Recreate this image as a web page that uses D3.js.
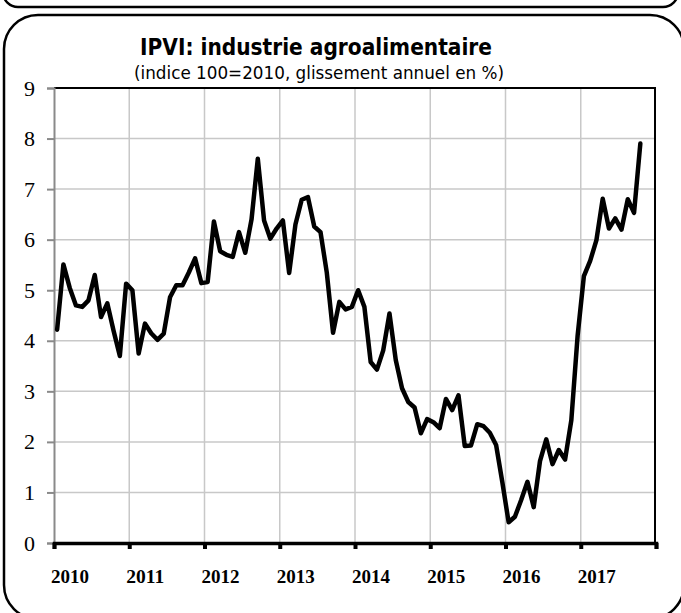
<!DOCTYPE html>
<html>
<head>
<meta charset="utf-8">
<script src="https://cdn.jsdelivr.net/npm/d3@7"></script>
<style>
  html, body { margin: 0; padding: 0; background: #fff; }
  svg { display: block; }
</style>
</head>
<body>
<svg id="chart" width="681" height="613"></svg>
<script>
// Monthly year-on-year change of the agri-food industry index, Jan 2010 onward
const startYear = 2010;
const values = [
  4.22, 5.51, 5.05, 4.70, 4.67, 4.80, 5.30, 4.47, 4.74, 4.20, 3.70, 5.13,
  5.00, 3.75, 4.34, 4.15, 4.02, 4.14, 4.86, 5.10, 5.10, 5.35, 5.63, 5.14,
  5.16, 6.36, 5.77, 5.70, 5.66, 6.15, 5.74, 6.40, 7.60, 6.38, 6.02, 6.22,
  6.38, 5.34, 6.30, 6.79, 6.84, 6.26, 6.15, 5.35, 4.16, 4.77, 4.62, 4.67,
  5.00, 4.67, 3.58, 3.43, 3.81, 4.54, 3.62, 3.06, 2.79, 2.68, 2.17, 2.45,
  2.39, 2.27, 2.85, 2.63, 2.92, 1.92, 1.93, 2.35, 2.31, 2.18, 1.94, 1.20,
  0.41, 0.52, 0.85, 1.21, 0.71, 1.62, 2.05, 1.56, 1.84, 1.65, 2.43, 4.10,
  5.28, 5.58, 5.99, 6.81, 6.22, 6.42, 6.20, 6.80, 6.53, 7.90
];
const yearLabels = ["2010", "2011", "2012", "2013", "2014", "2015", "2016", "2017"];
const yTicks = [0, 1, 2, 3, 4, 5, 6, 7, 8, 9];
const titleText = "IPVI:  industrie agroalimentaire";
const subtitleText = "(indice 100=2010, glissement annuel en %)";

const svg = d3.select("#chart");

// Panel frames
svg.append("rect")
  .attr("x", 3).attr("y", -40).attr("width", 675).attr("height", 47)
  .attr("rx", 15).attr("ry", 15)
  .attr("fill", "none").attr("stroke", "#000").attr("stroke-width", 2.5);
svg.append("rect")
  .attr("x", 4).attr("y", 15).attr("width", 680).attr("height", 604)
  .attr("rx", 34).attr("ry", 34)
  .attr("fill", "none").attr("stroke", "#000").attr("stroke-width", 2.5);

const plot = { left: 54, right: 656, top: 88, bottom: 543 };

const x = d3.scaleLinear()
  .domain([startYear, startYear + 8])
  .range([plot.left, plot.right]);
const y = d3.scaleLinear()
  .domain([0, 9])
  .range([plot.bottom, plot.top]);

const yearTicks = d3.range(startYear, startYear + 9);

// Gridlines
svg.append("g")
  .selectAll("line.h")
  .data(yTicks.slice(1))
  .join("line")
  .attr("x1", plot.left).attr("x2", plot.right)
  .attr("y1", d => y(d)).attr("y2", d => y(d))
  .attr("stroke", "#c8c8c8").attr("stroke-width", 1.5);
svg.append("g")
  .selectAll("line.v")
  .data(yearTicks.slice(1, -1))
  .join("line")
  .attr("x1", d => x(d)).attr("x2", d => x(d))
  .attr("y1", plot.top).attr("y2", plot.bottom)
  .attr("stroke", "#c8c8c8").attr("stroke-width", 1.5);

// Plot border (top and right)
svg.append("path")
  .attr("d", `M${plot.left},${plot.top}H${plot.right - 1}V${plot.bottom}`)
  .attr("fill", "none").attr("stroke", "#000").attr("stroke-width", 2);

// Left axis
const yAxis = svg.append("g")
  .attr("transform", `translate(${plot.left},0)`)
  .call(d3.axisLeft(y).tickValues(yTicks).tickSize(7).tickPadding(12).tickFormat(d3.format("d")));
yAxis.select(".domain").attr("stroke", "#8a8a8a").attr("stroke-width", 2);
yAxis.selectAll(".tick line").attr("stroke", "#8a8a8a").attr("stroke-width", 2);
yAxis.selectAll(".tick text")
  .attr("font-family", "'Liberation Serif', 'Times New Roman', serif")
  .attr("font-size", 22).attr("fill", "#000");

// Bottom axis
const xAxis = svg.append("g")
  .attr("transform", `translate(0,${plot.bottom})`)
  .call(d3.axisBottom(x).tickValues(yearTicks).tickSize(6).tickFormat(""));
xAxis.select(".domain").attr("stroke", "#000").attr("stroke-width", 3.5);
xAxis.selectAll(".tick line").attr("stroke", "#000").attr("stroke-width", 4);

svg.append("g")
  .selectAll("text")
  .data(yearLabels)
  .join("text")
  .attr("x", (d, i) => x(startYear + i) - 3)
  .attr("y", 583)
  .attr("font-family", "'Liberation Serif', 'Times New Roman', serif")
  .attr("font-weight", "bold")
  .attr("font-size", 19)
  .attr("textLength", 38)
  .attr("lengthAdjust", "spacingAndGlyphs")
  .attr("fill", "#000")
  .text(d => d);

// Series line, points at mid-month
const line = d3.line()
  .x((d, i) => x(startYear + (i + 0.5) / 12))
  .y(d => y(d));
svg.append("path")
  .datum(values)
  .attr("d", line)
  .attr("fill", "none")
  .attr("stroke", "#000")
  .attr("stroke-width", 4.5)
  .attr("stroke-linejoin", "round")
  .attr("stroke-linecap", "round");

// Titles
svg.append("text")
  .attr("x", 316).attr("y", 55)
  .attr("text-anchor", "middle")
  .attr("font-family", "'DejaVu Sans', Verdana, sans-serif")
  .attr("font-weight", "bold")
  .attr("font-size", 23)
  .attr("textLength", 352)
  .attr("lengthAdjust", "spacingAndGlyphs")
  .text(titleText);
svg.append("text")
  .attr("x", 319).attr("y", 79)
  .attr("text-anchor", "middle")
  .attr("font-family", "'DejaVu Sans', Verdana, sans-serif")
  .attr("font-size", 17)
  .attr("textLength", 370)
  .attr("lengthAdjust", "spacingAndGlyphs")
  .text(subtitleText);
</script>
</body>
</html>
